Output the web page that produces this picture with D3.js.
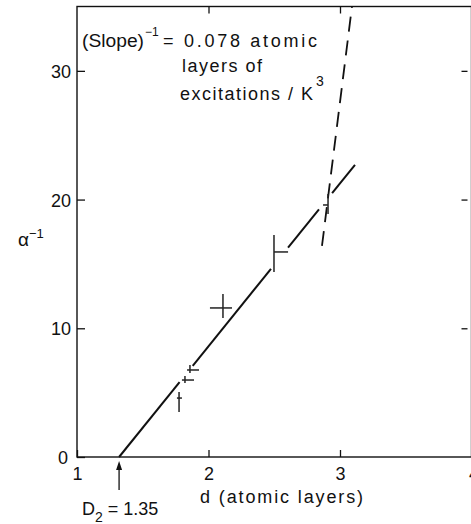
<!DOCTYPE html>
<html><head><meta charset="utf-8">
<script src="https://cdn.jsdelivr.net/npm/d3@7"></script>
<style>
html,body{margin:0;padding:0;background:#fff;}
text{font-family:"Liberation Sans",Arial,sans-serif;fill:#111;}
</style></head>
<body><svg id="c" width="471" height="524"></svg>
<script>
// ---- data ----
const xTicks = [1, 2, 3, 4];
const yTicks = [0, 10, 20, 30];
const topTicks = [2, 3];
const rightTicks = [10, 20, 30];
// error-bar points: center x, center y, horizontal bar extent, vertical bar extent
const ptX    = [1.776, 1.821, 1.859, 2.110, 2.498, 2.909];
const ptY    = [4.58, 5.98, 6.76, 11.58, 15.93, 19.58];
const ptXLo  = [1.760, 1.798, 1.837, 2.011, 2.498, 2.871];
const ptXHi  = [1.798, 1.890, 1.928, 2.179, 2.605, 2.909];
const ptYLo  = [3.50, 5.75, 6.53, 10.80, 14.37, 18.88];
const ptYHi  = [5.05, 6.29, 7.15, 12.67, 17.25, 20.44];
// fitted straight line (intercept D2, end point) and gaps around the points
const fitX = [1.32, 3.114];
const fitY = [0, 22.7];
const fitGaps = [[1.78, 1.88], [2.475, 2.605], [2.84, 2.94]];
// dashed line
const dashX = [2.863, 3.091];
const dashY = [16.4, 35.0];
const D2 = 1.32;

const svg = d3.select("#c");
const L = 77, R = 471.5, T = 6.5, B = 457;
const x = d3.scaleLinear().domain([1, 4]).range([L, R]);
const y = d3.scaleLinear().domain([0, 35]).range([B, T]);
const ink = "#111";

// frame
svg.append("rect").attr("x", L).attr("y", T).attr("width", R - L).attr("height", B - T)
  .attr("fill", "none").attr("stroke", ink).attr("stroke-width", 1.4);

// axes
const ax = svg.append("g").attr("transform", `translate(0,${B})`)
  .call(d3.axisBottom(x).tickValues(xTicks).tickSize(-7).tickPadding(10).tickFormat(d3.format("d")));
const ay = svg.append("g").attr("transform", `translate(${L},0)`)
  .call(d3.axisLeft(y).tickValues(yTicks).tickSize(-8).tickPadding(6).tickFormat(d3.format("d")));
const at = svg.append("g").attr("transform", `translate(0,${T})`)
  .call(d3.axisTop(x).tickValues(topTicks).tickSize(-7).tickFormat(""));
const ar = svg.append("g").attr("transform", `translate(${R - 4},0)`)
  .call(d3.axisRight(y).tickValues(rightTicks).tickSize(-6).tickFormat(""));
[ax, ay, at, ar].forEach(g => {
  g.select(".domain").remove();
  g.selectAll(".tick line").attr("stroke", ink).attr("stroke-width", 1.3);
  g.selectAll(".tick text").style("font-size", "18px").attr("fill", ink).style("font-family", '"Liberation Sans",Arial,sans-serif');
});
ay.selectAll(".tick text").attr("dy", "0.36em");
ay.selectAll(".tick text").filter(d => d === 0).attr("x", -9);
ax.selectAll(".tick text").filter(d => d === 4).attr("text-anchor", "start").attr("dx", "-3");

// fitted line with gaps
const segs = [];
let start = fitX[0];
const slope = (fitY[1] - fitY[0]) / (fitX[1] - fitX[0]);
const fy = v => fitY[0] + slope * (v - fitX[0]);
fitGaps.forEach(g => { segs.push([start, g[0]]); start = g[1]; });
segs.push([start, fitX[1]]);
svg.append("g").selectAll("line").data(segs).join("line")
  .attr("x1", d => x(d[0])).attr("y1", d => y(fy(d[0])))
  .attr("x2", d => x(d[1])).attr("y2", d => y(fy(d[1])))
  .attr("stroke", ink).attr("stroke-width", 2);

// dashed line
svg.append("line")
  .attr("x1", x(dashX[0])).attr("y1", y(dashY[0]))
  .attr("x2", x(dashX[1])).attr("y2", y(dashY[1]))
  .attr("stroke", ink).attr("stroke-width", 1.8).attr("stroke-dasharray", "15,9");

// error bars
const pts = ptX.map((v, i) => ({ x: v, y: ptY[i], xl: ptXLo[i], xh: ptXHi[i], yl: ptYLo[i], yh: ptYHi[i] }));
const pg = svg.append("g").attr("stroke", "#222").attr("stroke-width", 1.5);
pg.selectAll(".v").data(pts).join("line").attr("class", "v")
  .attr("x1", d => x(d.x)).attr("x2", d => x(d.x)).attr("y1", d => y(d.yl)).attr("y2", d => y(d.yh));
pg.selectAll(".h").data(pts).join("line").attr("class", "h")
  .attr("x1", d => x(d.xl)).attr("x2", d => x(d.xh)).attr("y1", d => y(d.y)).attr("y2", d => y(d.y));

// arrow at D2
const axp = x(D2);
svg.append("line").attr("x1", axp).attr("x2", axp).attr("y1", 490).attr("y2", 468)
  .attr("stroke", ink).attr("stroke-width", 1.3);
svg.append("path").attr("d", `M${axp},${461} L${axp - 3},${470} L${axp + 3},${470} Z`).attr("fill", ink);

// axis titles
svg.append("text").attr("x", 200).attr("y", 503).attr("textLength", 163).attr("lengthAdjust", "spacing")
  .style("font-size", "18px").text("d (atomic layers)");
const d2 = svg.append("text").attr("x", 82).attr("y", 515).style("font-size", "18px");
d2.append("tspan").text("D");
d2.append("tspan").attr("dy", 7).style("font-size", "14px").text("2");
d2.append("tspan").attr("dy", -7).attr("dx", 5).text("= 1.35");

const yl = svg.append("text").attr("x", 18).attr("y", 246).style("font-size", "19px");
yl.append("tspan").text("α");
yl.append("tspan").attr("dy", -8).style("font-size", "13px").text("−1");

// annotation
svg.append("text").attr("x", 82).attr("y", 47).style("font-size", "18px").attr("textLength", 62).attr("lengthAdjust", "spacingAndGlyphs").text("(Slope)");
svg.append("text").attr("x", 145).attr("y", 36).style("font-size", "12px").text("−1");
svg.append("text").attr("x", 163).attr("y", 47).style("font-size", "18px").attr("textLength", 154).attr("lengthAdjust", "spacing").text("= 0.078 atomic");
svg.append("text").attr("x", 182).attr("y", 72).style("font-size", "18px").attr("textLength", 80).attr("lengthAdjust", "spacing").text("layers  of");
svg.append("text").attr("x", 180).attr("y", 100).style("font-size", "18px").attr("textLength", 133).attr("lengthAdjust", "spacing").text("excitations / K");
svg.append("text").attr("x", 316).attr("y", 86).style("font-size", "14px").text("3");
</script></body></html>
